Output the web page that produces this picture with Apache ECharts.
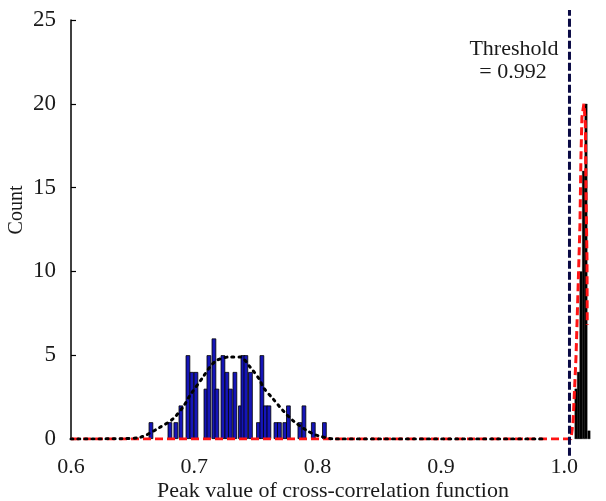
<!DOCTYPE html>
<html><head><meta charset="utf-8">
<script src="https://cdn.jsdelivr.net/npm/echarts@6/dist/echarts.min.js"></script>
<style>html,body{margin:0;padding:0;background:#fff}#c{width:606px;height:501px}</style>
</head><body><div id="c"></div>
<script>
// Blue histogram (non-matching pairs): bin position, count
var blueX = [0.6641,0.6795,0.6843,0.6884,0.6941,0.6973,0.7006,0.7087,0.7111,0.7152,0.7176,0.7225,0.7257,0.7285,0.7322,0.7367,0.7387,0.7411,0.7448,0.7513,0.7541,0.7569,0.7598,0.7655,0.7683,0.7727,0.7756,0.7849,0.7882,0.7958,0.8048];
var blueY = [1,1,1,2,5,4,4,3,5,6,3,5,4,3,4,2,5,5,4,1,5,2,2,1,1,1,2,1,2,1,1];
// Black histogram (matching pairs)
var blackX = [1.0096,1.0116,1.0136,1.0157,1.0177,1.0201];
var blackY = [3,4,10,16,20,0.5];
// Dotted fitted curve for blue histogram
var dotX = [0.6,0.64,0.656,0.6722,0.6827,0.6908,0.6965,0.7071,0.7127,0.7184,0.729,0.7371,0.7452,0.7533,0.7557,0.7638,0.7719,0.78,0.7914,0.8003,0.815,0.985];
var dotY = [0,0.02,0.1,0.7,1.2,1.9,2.6,3.7,4.3,4.7,4.9,4.9,4.3,3.5,3.1,2.4,1.7,1.1,0.5,0.2,0,0];
// Red dashed fitted curve for black histogram
var redX = [0.6,1.0055,1.0072,1.0096,1.0112,1.0128,1.0136,1.0144,1.016,1.0172,1.0177,1.0185,1.0187];
var redY = [0,0,1,4.9,8.8,12.8,16.8,19.2,20,18.8,14.8,10.8,6.8];
// Threshold line
var thrX = 1.0043;
var thrY = [-1, 25.6];
var thrText = ['Threshold', '= 0.992'];
var yTicks = [0,5,10,15,20,25];
var xTicks = [0.6,0.7,0.8,0.9,1.0];

function pairs(xs, ys){ return xs.map(function(x,i){return [x, ys[i]];}); }

var font = '"Liberation Serif", "Times New Roman", serif';
var chart = echarts.init(document.getElementById('c'), null, {renderer:'canvas'});
chart.setOption({
  animation:false,
  backgroundColor:'#fff',
  grid:{left:71,right:11,top:20,bottom:62,containLabel:false,outerBoundsMode:'none'},
  xAxis:{type:'value',min:0.6,max:1.025,interval:0.1,
    axisLine:{show:false},axisTick:{show:false},splitLine:{show:false},
    axisLabel:{showMaxLabel:false,margin:17,fontFamily:font,fontSize:22,color:'#1a1a1a',
      formatter:function(v){ var t=Math.round(v*10)/10; return xTicks.indexOf(t)>=0 ? t.toFixed(1) : ''; }},
    name:'Peak value of cross-correlation function',nameLocation:'middle',nameGap:41,nameMoveOverlap:false,
    nameTextStyle:{fontFamily:font,fontSize:22,color:'#1a1a1a'}},
  yAxis:{type:'value',min:0,max:25,interval:5,
    axisLine:{show:true,lineStyle:{color:'#000',width:1.5}},
    axisTick:{show:true,inside:true,length:5,lineStyle:{color:'#000',width:1.2}},
    splitLine:{show:false},
    axisLabel:{margin:15,fontFamily:font,fontSize:23,color:'#1a1a1a',verticalAlign:'middle',padding:[10,0,0,0],
      formatter:function(v){ return yTicks.indexOf(v)>=0 ? String(v) : ''; }}},
  graphic:[
    {type:'text',x:17,y:210,rotation:Math.PI/2,style:{text:'Count',font:'20px '+font,fill:'#1a1a1a',textAlign:'center',textVerticalAlign:'middle'}},
    {type:'text',x:514,y:49,style:{text:thrText[0],font:'22px '+font,fill:'#1a1a1a',textAlign:'center',textVerticalAlign:'middle'}},
    {type:'text',x:513,y:72,style:{text:thrText[1],font:'22px '+font,fill:'#1a1a1a',textAlign:'center',textVerticalAlign:'middle'}}
  ],
  series:[
    {type:'bar',data:pairs(blueX,blueY),barWidth:4.6,barGap:'-100%',z:2,
      itemStyle:{color:'#1515b8',borderColor:'#000',borderWidth:0.8}},
    {type:'bar',data:pairs(blackX,blackY),barWidth:2.8,barGap:'-100%',z:2,
      itemStyle:{color:'#000',borderColor:'#000',borderWidth:0.3}},
    {type:'line',data:pairs(redX,redY),showSymbol:false,z:5,
      lineStyle:{color:'#ff1414',width:3,type:[8,4]}},
    {type:'line',data:pairs(dotX,dotY),showSymbol:false,smooth:0.3,z:6,
      lineStyle:{color:'#000',width:3,type:[2,5],cap:'round'}},
    {type:'line',data:[[thrX,thrY[0]],[thrX,thrY[1]]],showSymbol:false,clip:false,z:7,
      lineStyle:{color:'#0a0a45',width:3,type:[8,3]}}
  ]
});
</script></body></html>
